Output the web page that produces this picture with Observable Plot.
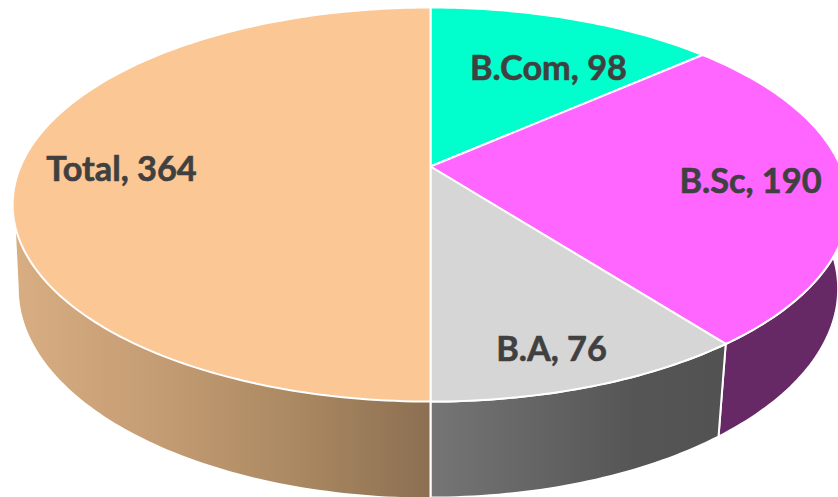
<!DOCTYPE html>
<html>
<head>
<meta charset="utf-8">
<script src="https://cdn.jsdelivr.net/npm/d3@7"></script>
<script src="https://cdn.jsdelivr.net/npm/@observablehq/plot@0.6"></script>
<style>html,body{margin:0;padding:0;background:#fff;overflow:hidden}svg{display:block}</style>
</head>
<body>
<div id="chart"></div>
<script>
const categories = ["B.Com", "B.Sc", "B.A", "Total"];
const values = [98, 190, 76, 364];
const topColors = ["#00FFCC", "#FF66FF", "#D6D6D6", "#FAC795"];
const labelX = [548, 750, 551, 121];
const labelY = [69, 182, 350, 170];

// perspective view of the pie disc: top face and lower rim
const tilt = -0.193;
const topFace = {cx: 430, cy: 166, kxL: 410, kxR: 410, ky: 189.7};
const rimFace = {cx: 430, cy: 248, kxL: 404, kxR: 400, ky: 201};

function project(face, deg) {
  const t = deg * Math.PI / 180, u = Math.sin(t), v = -Math.cos(t), w = 1 + tilt * v;
  return {x: face.cx + (u < 0 ? face.kxL : face.kxR) * u / w, y: face.cy + face.ky * v / w};
}
function arc(face, a, b) {
  const n = Math.max(2, Math.ceil(Math.abs(b - a)));
  return d3.range(n + 1).map(i => project(face, a + (b - a) * i / n));
}
const total = d3.sum(values);
const cum = d3.cumsum(values);
const angle = i => (i < 0 ? 0 : cum[i]) / total * 360;

const wedge = i => [{x: topFace.cx, y: topFace.cy}, ...arc(topFace, angle(i - 1), angle(i)), {x: topFace.cx, y: topFace.cy}];
const side = (a, bTop, bRim = bTop) => { const p = [...arc(topFace, a, bTop), ...arc(rimFace, bRim, a)]; return [...p, p[0]]; };

function gradient(id, stops) {
  const ns = "http://www.w3.org/2000/svg";
  const g = document.createElementNS(ns, "linearGradient");
  g.setAttribute("id", id);
  for (const [o, c] of stops) {
    const s = document.createElementNS(ns, "stop");
    s.setAttribute("offset", o);
    s.setAttribute("stop-color", c);
    g.appendChild(s);
  }
  return g;
}
const defs = () => {
  const d = document.createElementNS("http://www.w3.org/2000/svg", "defs");
  d.appendChild(gradient("sideTotal", [[0, "#D8AD82"], [0.35, "#C49C73"], [0.7, "#A88760"], [1, "#8C6F52"]]));
  d.appendChild(gradient("sideBA", [[0, "#757575"], [0.7, "#555555"], [1, "#525252"]]));
  return d;
};

const edge = {x: "x", y: "y", stroke: "#fff", strokeWidth: 2, strokeLinejoin: "round"};
const plot = Plot.plot({
  width: 838, height: 497,
  margin: 0,
  x: {domain: [0, 838], range: [0, 838], axis: null},
  y: {domain: [0, 497], range: [0, 497], axis: null},
  marks: [
    defs,
    Plot.line(side(angle(1) - 95, angle(1)), {...edge, fill: "#662966"}),
    Plot.line(side(angle(1), angle(2)), {...edge, fill: "url(#sideBA)"}),
    Plot.line(side(angle(2), 252, 259), {x: "x", y: "y", fill: "url(#sideTotal)"}),
    Plot.ruleX([topFace.cx], {y1: 401, y2: 497, stroke: "#fff", strokeWidth: 2}),
    ...categories.map((c, i) => Plot.line(wedge(i), {...edge, fill: topColors[i]})),
    Plot.text(categories.map((c, i) => ({label: `${c}, ${values[i]}`, x: labelX[i], y: labelY[i]})), {
      x: "x", y: "y", text: "label", fill: "#404040", stroke: "#404040", strokeWidth: 0.6,
      fontSize: 34.3, fontWeight: 700,
      fontFamily: "Lato", textAnchor: "middle", lineAnchor: "middle"
    })
  ]
});
document.getElementById("chart").appendChild(plot);
</script>
</body>
</html>
